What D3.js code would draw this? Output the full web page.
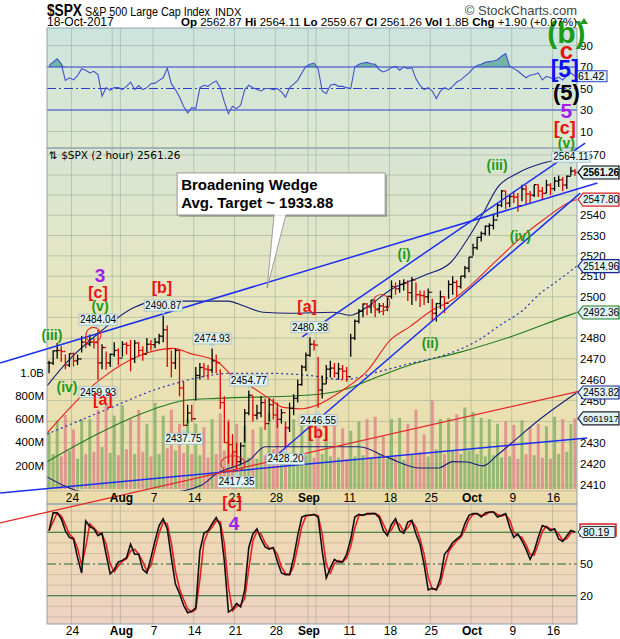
<!DOCTYPE html>
<html>
<head>
<meta charset="utf-8">
<script src="https://cdn.jsdelivr.net/npm/d3@7/dist/d3.min.js"></script>
<style>
  body { margin: 0; background: #fff; }
  svg { display: block; font-family: "Liberation Sans", Arial, sans-serif; }
</style>
</head>
<body>
<div id="chart"></div>
<script>
// ---- data: 2 bars per trading day, 19-Jul-2017 .. 18-Oct-2017 ----
const tickDays   = [3, 9, 13, 18, 23, 28, 32, 37, 42, 47, 52, 57, 62];
const tickLabels = ["24", "Aug", "7", "14", "21", "28", "Sep", "11", "18", "25", "Oct", "9", "16"];
const gridDays   = [3, 8, 9, 13, 18, 23, 28, 32, 33, 37, 42, 47, 52, 57, 62];

const barHigh = [
  2469,2474, 2477.6,2476, 2472,2472.5, 2473,2472, 2481,2481.2, 2481.7,2480, 2484.04,2477, 2473.5,2472.5,
  2478,2475, 2478.5,2478, 2479,2479, 2478,2476, 2480,2479, 2480,2482, 2490.87,2486, 2474,2475,
  2474,2459, 2448,2448, 2466,2468, 2468,2467, 2474.93,2472, 2465,2452, 2440,2434, 2430,2430,
  2446,2454.77, 2452,2448, 2452,2451, 2451,2451, 2449,2446, 2440,2449, 2453,2460, 2467,2473,
  2480.38,2479, 2471,2462, 2467,2469, 2468,2468, 2467,2466, 2482,2488.9, 2494,2496.7, 2497,2498.4,
  2498,2497, 2497,2500.2, 2508,2507, 2508,2508.5, 2508,2509.6, 2507,2503, 2503,2504, 2499,2497,
  2503,2500, 2508,2510, 2508,2510.1, 2515,2519.4, 2526,2529.2, 2532,2535, 2536,2540.5, 2546,2552.5,
  2552,2550, 2552,2551, 2555.2,2555, 2552,2555.2, 2555.3,2554, 2557.6,2556, 2559,2559.7, 2559,2559.7,
  2564.11,2563
];
const barLow = [
  2463,2467, 2470,2468.4, 2465,2466, 2466.3,2467, 2473,2475, 2476,2474.9, 2459.93,2465, 2464.7,2466,
  2471,2467, 2471,2472, 2464,2468, 2471,2469, 2473,2474, 2475,2477, 2478,2466, 2461,2465,
  2452,2437.75, 2439,2440, 2450,2460, 2461,2460, 2463,2463, 2446,2430, 2420,2419, 2417.35,2420,
  2430,2443, 2440,2441, 2442,2436, 2440,2441, 2437,2439, 2428.2,2435, 2443,2449, 2457,2464,
  2471,2474, 2446.55,2451, 2458,2461, 2461,2460, 2460,2459, 2471,2479, 2487,2490, 2491,2492,
  2490,2492, 2491,2493, 2499,2501, 2502,2503, 2498,2496, 2498,2495, 2496,2497, 2488,2488,
  2494,2492, 2499,2501, 2500,2504, 2509,2512, 2520,2523, 2527,2530, 2530,2533, 2539,2544,
  2543,2544, 2546,2541.8, 2547,2545, 2546,2549, 2549,2547.9, 2551,2550, 2552,2554, 2552,2553,
  2559.8,2559.67
];
const barClose = [
  2468,2473.8, 2474,2473.5, 2467,2472.5, 2469,2469.9, 2478,2477.1, 2478,2477.8, 2468,2475.4, 2468,2472.1,
  2474,2470.3, 2477,2476.4, 2470,2477.6, 2474,2472.2, 2477,2476.8, 2478,2480.9, 2484,2474.9, 2468,2474,
  2456,2438.2, 2444,2441.3, 2462,2465.8, 2465,2464.6, 2469,2468.1, 2449,2430, 2429,2425.6, 2421,2428.4,
  2444,2452.5, 2443,2444, 2449,2439, 2448,2443.1, 2441,2444.2, 2437,2446.3, 2451,2457.6, 2466,2471.7,
  2477,2476.6, 2455,2457.9, 2465,2465.5, 2463,2465.1, 2464,2461.4, 2480,2488.1, 2493,2496.5, 2495,2498.4,
  2494,2495.6, 2495,2500.2, 2505,2503.9, 2506,2506.7, 2502,2508.2, 2501,2500.6, 2500,2502.2, 2492,2496.7,
  2500,2496.8, 2506,2507, 2505,2510.1, 2514,2519.4, 2524,2529.1, 2531,2534.6, 2535,2537.7, 2545,2552.1,
  2546,2549.3, 2549,2544.7, 2553,2550.6, 2550,2555.2, 2552,2550.9, 2555,2553.2, 2557,2557.6, 2555,2559.4,
  2562,2561.26
];
// volume in millions
const volumeM = [
  490,300, 590,280, 635,330, 510,260, 600,300, 600,320, 680,360, 720,310,
  630,290, 720,340, 600,300, 680,320, 560,280, 740,300, 630,350, 680,330,
  560,310, 600,300, 560,290, 530,270, 600,300, 650,330, 600,310, 560,280,
  540,270, 510,260, 530,290, 650,340, 700,300, 540,280, 600,300, 560,290,
  550,270, 530,300, 520,280, 540,270, 520,260, 500,280, 580,290, 600,270,
  620,300, 450,260, 600,280, 610,250, 560,300, 680,320, 470,280, 760,340,
  600,300, 610,330, 640,300, 700,330, 660,300, 610,280, 600,290, 560,270,
  580,280, 550,260, 590,300, 530,290, 560,270, 540,260, 620,300, 600,320,
  560,606.1917
];
const rsi = [
  71.5,74.6,77.7,73,57.6,60,58,62,68.5,67, 64.5,66,63,42.8,50.8,48.3,50.8,50.8,49,52,
  56,49,52.7,49,50.8,54.5,55,57.6,60,69, 54.5,49,42,33.5,27.3,32.2,31.3,50.8,53,52,
  55,57,50.8,37.5,26.6,33.5,31.3,34.4,49,53, 50.8,49,47.7,50,50,49,50,46.8,42,50.8,
  54,57.6,64.5,70.6,72.5,73.7,68.5,47.7,45.2,53, 54,52,52,50.8,50,70,72.5,73.7,74.3,73,
  72.5,67.5,65.4,67,69.4,70.6,67,70,68.5,69.4, 59,53,49,50.8,47.7,40.6,47.7,50.8,49,52,
  56,58,61.3,64.5,68.5,71.5,72.5,74.3,75,75.6, 76.8,80,82.4,70.6,68.5,66.3,63,60,62.3,63,
  64.5,58,61.3,60,59,60.7,58,62.3,64.5,61.42
];
const stoch = [
  81.6,98.3,98.3,92.8,81.6,75.2,73.6,56,41.5,90.6, 85.4,83.2,76.8,79,59.2,40.6,44.7,52,53.4,56,
  68.8,59.2,59.2,44.7,41.5,56,72,86.4,92.8,83.2, 56,31,22.3,11,4,5.3,8.5,62.4,79,81.6,
  88,93.8,86.4,52.7,4.6,7.2,12.7,9.5,25.5,65.6, 78.4,83.2,73.6,66.2,64,65.6,52.7,41.5,40,40,
  56,76.8,94.4,96,96,97,94.4,62.4,36.7,46.3, 54.4,52,52,59.2,73.6,94.4,97,96,97.6,97.6,
  97.6,93.8,81.6,76.8,87.4,92.8,81.6,79,89.6,91.2, 78.4,68.8,49.5,25.5,27,25.5,36.7,59.2,64,70.4,
  73.6,76.8,88,96,97.6,97.6,94.4,98.3,99.2,99.2, 94.4,96,97.6,84.8,75.2,78.4,72,64,54.4,62.4,
  75.2,86.4,84.8,81.6,83.2,73.6,71.3,76.8,81.6,80.19
];

// overlays as [bar position, price]
const redMA = [[0,2434.5],[13,2460],[22.8,2471.6],[31,2475],[35,2472.6],[41.7,2468.7],[45.6,2461.6],[50.6,2456],[54,2451.6],[58,2446.7],[62,2446],[65.8,2447.5],[72.6,2455],[78.5,2464],[84.2,2479],[89,2485.5],[94,2492.8],[100.6,2500.1],[103,2504],[110.4,2518],[117.8,2531.7],[121.7,2537.7],[128.3,2546.6],[130,2547.80]];
const dottedMA = [[0,2434],[13,2444.4],[29.4,2457],[45.6,2463],[53.9,2463],[64.3,2462],[72.6,2460],[81,2463.6],[89,2467.7],[97.2,2471.6],[105.5,2478.6],[111,2486],[116.8,2493.6],[121,2501.7],[124,2506],[130,2514.96]];
const greenMA = [[0,2420.9],[13,2434.6],[23.6,2444],[34.4,2450.2],[41.7,2451],[64.5,2452.6],[72.6,2455],[81,2461.2],[89,2467],[101.4,2473.2],[113.6,2480.5],[128.3,2491.2],[130,2492.36]];
const bandUpper = [[0,2457],[4.9,2468.4],[13,2482.9],[21.1,2494.5],[25.3,2497.4],[33.1,2497.9],[44.4,2497.9],[48.3,2495.5],[53,2492.5],[59.6,2492],[70.2,2492.5],[74.4,2491],[78.5,2495],[84.2,2503.3],[92.3,2510.3],[98.9,2516.5],[103,2527.8],[107,2541.1],[110.4,2553.5],[115.3,2560.8],[121.7,2566],[128.3,2568.5],[130,2569]];
const bandLower = [[0,2413.8],[5,2409],[8,2407],[20,2405],[29,2406],[38,2410],[41.2,2414.8],[49.8,2422],[53.5,2428],[64.3,2428],[76.6,2428],[83.5,2423],[91.5,2418],[96,2418],[99.6,2421],[103,2420.8],[107,2419],[110.4,2424],[115.3,2432],[120.2,2440],[125,2447],[130,2453.82]];

const blueTrendLines = [
  [[-11.5, 2468.0], [135.0, 2556.0]],
  [[-11.5, 2406.3], [132.5, 2432.2]],
  [[62.6, 2480.5], [132.0, 2576.0]],
  [[56.7, 2424.6], [130.8, 2551.0]]
];
const redTrendLines = [
  [[-11.5, 2392.3], [135.0, 2456.4]]
];

const priceNotes = [[12,2484.04,"hi"],[28,2490.87,"hi"],[40,2474.93,"hi"],[12,2459.93,"lo"],[49,2454.77,"hi"],[33,2437.75,"lo"],[46,2417.35,"lo"],[58,2428.20,"lo"],[64,2480.38,"hi"],[66,2446.55,"lo"],[128,2564.11,"hi"]];
const minorWaves = [["(iii)",1.2,2481.5],["(iv)",4.9,2456.4],["(v)",13,2495.5],["(i)",87.6,2520.9],["(ii)",94,2477.6],["(iii)",110.4,2565],["(iv)",116.1,2529.8],["(v)",127.4,2576]];
const bracketWaves = [["[c]",12.5,2502.3],["[b]",28.2,2504.8],["[a]",13.7,2450.7],["[a]",63.8,2495.5],["[b]",66.5,2435],["[c]",45.4,2402]];
const primaryWaves = [["3",13,2510.6],["4",45.9,2392.2]];
const waveStack = [["(b)",127.4,2632.3],["c",127.4,2623.1],["[5]",127,2613.4],["(5)",127.4,2601.7],["5",127.4,2592.6],["[c]",127,2583.6]];
const circleNotes = [[11.4,2481.5],[45.6,2420],[82,2497]];
const calloutTip = [54, 2504.3];
const calloutText = ["Broadening Wedge", "Avg. Target ~ 1933.88"];
const headerStats = [["Op","2562.87"],["Hi","2564.11"],["Lo","2559.67"],["Cl","2561.26"],["Vol","1.8B"],["Chg","+1.90 (+0.07%)"]];

// ---- layout ----
const W = 620, H = 639, L = 47, R = 577;
const rsiTop = 28, rsiBot = 148, mainTop = 148, mainBot = 491, stripBot = 504, stoTop = 504, stoBot = 624;

const svg = d3.select("#chart").append("svg").attr("width", W).attr("height", H);
const defs = svg.append("defs");
function grad(id, stops) {
  const g = defs.append("linearGradient").attr("id", id).attr("x1", 0).attr("y1", 0).attr("x2", 0).attr("y2", 1);
  stops.forEach(s => g.append("stop").attr("offset", s[0]).attr("stop-color", s[1]));
}
grad("gRsi", [[0, "#cce4de"], [1, "#dee8cf"]]);
grad("gMain", [[0, "#d8e5d3"], [0.45, "#e7e6bf"], [1, "#ecdba6"]]);
grad("gSto", [[0, "#eedbb2"], [1, "#eed3c2"]]);
defs.append("clipPath").attr("id", "clipMain").append("rect").attr("x", L).attr("y", mainTop).attr("width", R - L).attr("height", mainBot - mainTop);
defs.append("clipPath").attr("id", "clipRsi").append("rect").attr("x", L).attr("y", rsiTop).attr("width", R - L).attr("height", rsiBot - rsiTop);
defs.append("clipPath").attr("id", "clipSto").append("rect").attr("x", L).attr("y", stoTop).attr("width", R - L).attr("height", stoBot - stoTop);

const x  = d3.scaleLinear().domain([0, 130]).range([L, R]);
const yP = d3.scaleLog().domain([2410, 2570]).range([485, 155]);
const yV = d3.scaleLinear().domain([0, 1000]).range([489, 372.5]);
const yR = d3.scaleLinear().domain([-5.35, 106.3]).range([rsiBot, rsiTop]);
const yS = d3.scaleLinear().domain([-6.7, 106.7]).range([stoBot, stoTop]);
const dayX = d => x(2 * d);
const gridCol = "rgba(110,140,120,0.35)";

// ---- panel backgrounds ----
svg.append("rect").attr("x", L).attr("y", rsiTop).attr("width", R - L).attr("height", rsiBot - rsiTop).attr("fill", "url(#gRsi)");
svg.append("rect").attr("x", L).attr("y", mainTop).attr("width", R - L).attr("height", mainBot - mainTop).attr("fill", "url(#gMain)");
svg.append("rect").attr("x", L).attr("y", mainBot).attr("width", R - L).attr("height", stripBot - mainBot).attr("fill", "#ecdcab");
svg.append("rect").attr("x", L).attr("y", stoTop).attr("width", R - L).attr("height", stoBot - stoTop).attr("fill", "url(#gSto)");

// vertical grid
[[rsiTop, rsiBot], [mainTop, mainBot], [stoTop, stoBot]].forEach(([t, b]) => {
  svg.append("g").selectAll("line").data(gridDays).enter().append("line")
    .attr("x1", dayX).attr("x2", dayX).attr("y1", t).attr("y2", b)
    .attr("stroke", gridCol).attr("stroke-width", 1);
});
// horizontal grid
svg.append("g").selectAll("line").data(d3.range(2410, 2571, 10)).enter().append("line")
  .attr("x1", L).attr("x2", R).attr("y1", d => yP(d)).attr("y2", d => yP(d))
  .attr("stroke", gridCol);
svg.append("g").selectAll("line").data([10, 90]).enter().append("line")
  .attr("x1", L).attr("x2", R).attr("y1", d => yR(d)).attr("y2", d => yR(d)).attr("stroke", gridCol);
svg.append("g").selectAll("line").data([0, 10, 30, 40, 60, 70, 90, 100]).enter().append("line")
  .attr("x1", L).attr("x2", R).attr("y1", d => yS(d)).attr("y2", d => yS(d)).attr("stroke", "rgba(150,130,110,0.3)");

// ---- RSI panel ----
const rsiG = svg.append("g").attr("clip-path", "url(#clipRsi)");
rsiG.append("path").datum(rsi)
  .attr("d", d3.area().x((d, i) => x(i + 0.5)).y0(yR(70)).y1(d => yR(Math.max(d, 70))))
  .attr("fill", "#62ad9f").attr("opacity", 0.85);
[[70, null], [30, null], [50, "9,3,2,3"]].forEach(([v, dash]) => {
  rsiG.append("line").attr("x1", L).attr("x2", R).attr("y1", yR(v)).attr("y2", yR(v))
    .attr("stroke", "#2b3dc8").attr("stroke-width", 1.2).attr("stroke-dasharray", dash);
});
rsiG.append("path").datum(rsi)
  .attr("d", d3.line().x((d, i) => x(i + 0.5)).y(d => yR(d)))
  .attr("fill", "none").attr("stroke", "#4152cc").attr("stroke-width", 1.1);

// ---- main panel ----
const mainG = svg.append("g").attr("clip-path", "url(#clipMain)");
mainG.selectAll(".vol").data(volumeM).enter().append("rect")
  .attr("x", (d, i) => x(i + 0.5) - 1.5).attr("width", 3)
  .attr("y", d => yV(d)).attr("height", d => yV(0) - yV(d))
  .attr("fill", (d, i) => (i === 0 || barClose[i] >= barClose[i - 1]) ? "#88b36a" : "#de8a8c")
  .attr("opacity", 0.85);

const ovl = d3.line().x(d => x(d[0])).y(d => yP(d[1])).curve(d3.curveMonotoneX);
mainG.append("path").attr("d", ovl(bandUpper)).attr("fill", "none").attr("stroke", "#14207a").attr("stroke-width", 1.1);
mainG.append("path").attr("d", ovl(bandLower)).attr("fill", "none").attr("stroke", "#14207a").attr("stroke-width", 1.1);
mainG.append("path").attr("d", ovl(greenMA)).attr("fill", "none").attr("stroke", "#1f7a1f").attr("stroke-width", 1.1);
mainG.append("path").attr("d", ovl(dottedMA)).attr("fill", "none").attr("stroke", "#2233b8").attr("stroke-width", 1.2).attr("stroke-dasharray", "2,3");
mainG.append("path").attr("d", ovl(redMA)).attr("fill", "none").attr("stroke", "#e8221e").attr("stroke-width", 1.1);

// price bars
const bars = mainG.selectAll(".bar").data(barClose).enter().append("g")
  .attr("stroke", (c, i) => (i === 0 || c >= barClose[i - 1]) ? "#000" : "#e00000")
  .attr("stroke-width", 1.3);
bars.append("line").attr("x1", (c, i) => x(i + 0.5)).attr("x2", (c, i) => x(i + 0.5))
  .attr("y1", (c, i) => yP(barHigh[i])).attr("y2", (c, i) => yP(barLow[i]));
bars.append("line").attr("x1", (c, i) => x(i + 0.5) - 2).attr("x2", (c, i) => x(i + 0.5))
  .attr("y1", (c, i) => yP(i ? barClose[i - 1] : c)).attr("y2", (c, i) => yP(i ? barClose[i - 1] : c));
bars.append("line").attr("x1", (c, i) => x(i + 0.5)).attr("x2", (c, i) => x(i + 0.5) + 2)
  .attr("y1", c => yP(c)).attr("y2", c => yP(c));

// ---- stochastic panel ----
const stoG = svg.append("g").attr("clip-path", "url(#clipSto)");
[[80, null], [20, null], [50, "9,3,2,3"]].forEach(([v, dash]) => {
  stoG.append("line").attr("x1", L).attr("x2", R).attr("y1", yS(v)).attr("y2", yS(v))
    .attr("stroke", "#1d6b2b").attr("stroke-width", 1.2).attr("stroke-dasharray", dash);
});
const stochSig = stoch.map((v, i) => i ? (v + stoch[i - 1]) / 2 : v);
const stoLine = d3.line().x((d, i) => x(i + 0.5)).y(d => yS(d));
stoG.append("path").datum(stochSig).attr("d", stoLine).attr("fill", "none").attr("stroke", "#e82020").attr("stroke-width", 1.6);
stoG.append("path").datum(stoch).attr("d", stoLine).attr("fill", "none").attr("stroke", "#111").attr("stroke-width", 1.6);

// panel borders
[[rsiTop, rsiBot], [mainTop, stripBot], [stoTop, stoBot]].forEach(([t, b]) => {
  svg.append("rect").attr("x", L).attr("y", t).attr("width", R - L).attr("height", b - t)
    .attr("fill", "none").attr("stroke", "#8fa3ae").attr("stroke-width", 1);
});
svg.append("line").attr("x1", L).attr("x2", R).attr("y1", mainBot).attr("y2", mainBot).attr("stroke", "rgba(140,160,170,0.5)");

// trend lines (drawn through the scales, allowed to run past the panel)
const tl = d3.line().x(d => x(d[0])).y(d => yP(d[1]));
svg.append("g").selectAll("path").data(blueTrendLines).enter().append("path")
  .attr("d", tl).attr("stroke", "#1b2ff0").attr("stroke-width", 1.5).attr("fill", "none");
svg.append("g").selectAll("path").data(redTrendLines).enter().append("path")
  .attr("d", tl).attr("stroke", "#e22a2a").attr("stroke-width", 1.3).attr("fill", "none");

// circles
const circR = [[7.5, 7.5], [12, 8], [8.5, 8.5]];
svg.append("g").selectAll("ellipse").data(circleNotes).enter().append("ellipse")
  .attr("cx", d => x(d[0])).attr("cy", d => yP(d[1]))
  .attr("rx", (d, i) => circR[i][0]).attr("ry", (d, i) => circR[i][1])
  .attr("fill", "none").attr("stroke", "#d83030").attr("stroke-width", 1.1);

// ---- value boxes on the right (positions) ----
const lastOf = a => a[a.length - 1][1];
const boxes = [
  [yP(barClose[129]), barClose[129].toFixed(2), "#000", true],
  [yP(lastOf(redMA)), lastOf(redMA).toFixed(2), "#e02020", false],
  [yP(lastOf(dottedMA)), lastOf(dottedMA).toFixed(2), "#1a2590", false],
  [yP(lastOf(greenMA)), lastOf(greenMA).toFixed(2), "#1f7a1f", false],
  [yP(lastOf(bandLower)), lastOf(bandLower).toFixed(2), "#1a2590", false],
  [yV(volumeM[129]), String(Math.round(volumeM[129] * 1e4)), "#223", false]
];

// ---- axes text ----
const axisFont = "11.5px";
const priceTicks = d3.range(2410, 2571, 10).filter(t => boxes.every(b => Math.abs(yP(t) - b[0]) > 5));
svg.append("g").selectAll("text").data(priceTicks).enter().append("text")
  .attr("x", R + 3).attr("y", d => yP(d)).attr("dy", "0.35em").style("font-size", axisFont).text(d => d);
svg.append("g").selectAll("text").data([90, 70, 50, 30, 10]).enter().append("text")
  .attr("x", R + 3).attr("y", d => yR(d)).attr("dy", "0.35em").style("font-size", axisFont).text(d => d);
svg.append("g").selectAll("text").data([50, 20]).enter().append("text")
  .attr("x", R + 3).attr("y", d => yS(d)).attr("dy", "0.35em").style("font-size", axisFont).text(d => d);
svg.append("g").selectAll("text").data([200, 400, 600, 800, 1000]).enter().append("text")
  .attr("x", L - 3).attr("y", d => yV(d)).attr("dy", "0.35em").attr("text-anchor", "end").style("font-size", axisFont)
  .text(d => d >= 1000 ? "1.0B" : d + "M");
[498, 631].forEach(yy => {
  svg.append("g").selectAll("text").data(tickDays).enter().append("text")
    .attr("x", d => dayX(d) + 1).attr("y", yy).attr("dy", "0.35em").attr("text-anchor", "middle")
    .style("font-size", "12px").style("font-weight", (d, i) => isNaN(+tickLabels[i]) ? "bold" : "normal")
    .text((d, i) => tickLabels[i]);
});

boxes.forEach(([y, text, stroke, bold]) => {
  const x0 = R + 1;
  svg.append("path").attr("d", `M${x0},${y} L${x0 + 5},${y - 6.5} L${619},${y - 6.5} L${619},${y + 6.5} L${x0 + 5},${y + 6.5} Z`)
    .attr("fill", "#dff3f5").attr("stroke", stroke).attr("stroke-width", 1.2);
  svg.append("text").attr("x", x0 + 5).attr("y", y).attr("dy", "0.35em")
    .style("font-size", text.length > 7 || !text.includes(".") ? "9.2px" : "10px")
    .style("font-weight", bold ? "bold" : "normal").text(text);
});
// rsi & stoch boxes
svg.append("rect").attr("x", R - 1).attr("y", yR(rsi[129]) - 5.5).attr("width", 31).attr("height", 11)
  .attr("fill", "#e2f3f5").attr("stroke", "#2b3dc8");
svg.append("text").attr("x", R + 1).attr("y", yR(rsi[129])).attr("dy", "0.35em").style("font-size", "10.5px")
  .text(rsi[129].toFixed(2));
svg.append("rect").attr("x", R + 3).attr("y", yS(stoch[129]) - 8).attr("width", 36).attr("height", 12)
  .attr("fill", "#e2f3f5").attr("stroke", "#e02020").attr("stroke-width", 1.5);
svg.append("path").attr("d", `M${R + 1},${yS(stoch[129])} L${R + 5},${yS(stoch[129]) - 5.5} L${R + 38},${yS(stoch[129]) - 5.5} L${R + 38},${yS(stoch[129]) + 5.5} L${R + 5},${yS(stoch[129]) + 5.5} Z`)
  .attr("fill", "#e2f3f5").attr("stroke", "#333");
svg.append("text").attr("x", R + 6).attr("y", yS(stoch[129])).attr("dy", "0.35em").style("font-size", "10.5px")
  .text(stoch[129].toFixed(2));

// ---- price notes ----
const notes = svg.append("g").selectAll("g").data(priceNotes).enter().append("g")
  .attr("transform", d => `translate(${x(d[0] + 0.5)},${yP(d[1])})`);
notes.append("path").attr("d", d => d[2] === "hi" ? "M-3,-4.5 L3,-4.5 L0,-1 Z" : "M-3,7 L3,7 L0,2 Z").attr("fill", "#b9d6da");
notes.append("rect").attr("x", -19).attr("y", d => d[2] === "hi" ? -15.5 : 7).attr("width", 38).attr("height", 11)
  .attr("fill", "#e0f3f3").attr("stroke", "#a5bcc2").attr("stroke-width", 0.8);
notes.append("text").attr("y", d => d[2] === "hi" ? -10 : 12.5).attr("dy", "0.35em").attr("text-anchor", "middle")
  .style("font-size", "10px").text(d => d[1].toFixed(2));

// ---- callout ----
const tipX = x(calloutTip[0]), tipY = yP(calloutTip[1]);
const co = svg.append("g");
co.append("rect").attr("x", tipX - 88).attr("y", tipY - 113).attr("width", 208).attr("height", 42).attr("fill", "rgba(0,0,0,0.25)");
co.append("path").attr("d", `M${tipX},${tipY} L${tipX + 7},${tipY - 74} L${tipX + 19},${tipY - 74} Z`)
  .attr("fill", "#fff").attr("stroke", "#888").attr("stroke-width", 0.8);
co.append("rect").attr("x", tipX - 90).attr("y", tipY - 115).attr("width", 208).attr("height", 42)
  .attr("fill", "#fff").attr("stroke", "#999");
co.append("rect").attr("x", tipX + 7.5).attr("y", tipY - 74).attr("width", 11).attr("height", 1.5).attr("fill", "#fff");
co.selectAll("text").data(calloutText).enter().append("text")
  .attr("x", tipX - 86).attr("y", (d, i) => tipY - 98 + i * 18)
  .style("font-size", "15px").style("font-weight", "bold").text(d => d);

// ---- wave labels ----
function waves(data, color, size) {
  svg.append("g").selectAll("text").data(data).enter().append("text")
    .attr("x", d => x(d[1])).attr("y", d => yP(d[2])).attr("dy", "0.36em").attr("text-anchor", "middle")
    .style("font-size", size + "px").style("font-weight", "bold").attr("fill", color).text(d => d[0]);
}
waves(minorWaves, "#1c9a1c", 14);
waves(bracketWaves, "#ee1111", 16);
waves(primaryWaves, "#a020f0", 19);
const stackStyle = [["#1c9a1c", 30], ["#ee1111", 24], ["#1010f0", 23], ["#000", 22], ["#a020f0", 21], ["#ee1111", 18]];
svg.append("g").selectAll("text").data(waveStack).enter().append("text")
  .attr("x", d => x(d[1])).attr("y", d => yP(d[2])).attr("dy", "0.36em").attr("text-anchor", "middle")
  .style("font-size", (d, i) => stackStyle[i][1] + "px").style("font-weight", "bold")
  .attr("fill", (d, i) => stackStyle[i][0]).text(d => d[0]);

// ---- header ----
svg.append("text").attr("x", L).attr("y", 16).style("font-size", "16px").style("font-weight", "bold")
  .attr("textLength", 35).attr("lengthAdjust", "spacingAndGlyphs").text("$SPX");
svg.append("text").attr("x", 85).attr("y", 16).style("font-size", "12px")
  .attr("textLength", 125).attr("lengthAdjust", "spacingAndGlyphs").text("S&P 500 Large Cap Index");
svg.append("text").attr("x", 215).attr("y", 16).style("font-size", "11px").text("INDX");
svg.append("text").attr("x", R).attr("y", 15).attr("text-anchor", "end").style("font-size", "13px").attr("fill", "#444").text("© StockCharts.com");
svg.append("text").attr("x", L).attr("y", 26).style("font-size", "12px").text("18-Oct-2017");
const stats = svg.append("text").attr("x", R).attr("y", 26).attr("text-anchor", "end").style("font-size", "11.5px");
headerStats.forEach((s, i) => {
  stats.append("tspan").style("font-weight", "bold").text((i ? "  " : "") + s[0] + " ");
  stats.append("tspan").text(s[1]);
});
svg.append("path").attr("d", `M${R + 3},${24} L${R + 7},${18} L${R + 11},${24} Z`).attr("fill", "#1c9a1c");
svg.append("text").attr("x", L + 2).attr("y", 155).attr("dy", "0.35em")
  .style("font-family", "'DejaVu Sans', sans-serif").style("font-size", "10.5px")
  .text("⇅ $SPX (2 hour) " + barClose[129].toFixed(2));
</script>
</body>
</html>
